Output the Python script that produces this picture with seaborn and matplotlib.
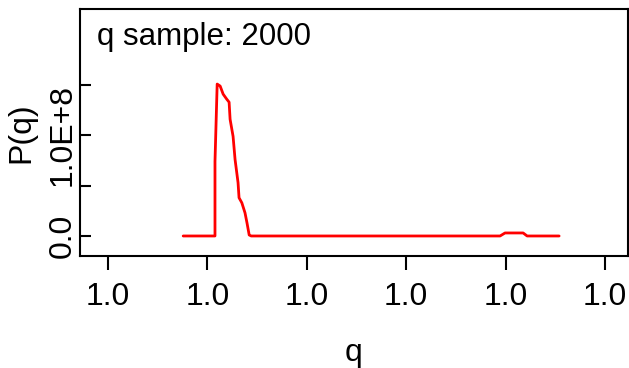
import matplotlib
matplotlib.use("Agg")
import matplotlib.pyplot as plt
import seaborn as sns
import pandas as pd

# ---- data ----
q_values = [0.9999378, 0.9999538, 0.9999538, 0.9999549, 0.9999564, 0.9999579,
            0.9999597, 0.9999609, 0.9999614, 0.9999629, 0.9999639, 0.9999654,
            0.9999659, 0.9999673, 0.9999689, 0.9999699, 0.9999710, 0.9999720,
            1.0000972, 1.0000997, 1.0001088, 1.0001108, 1.0001269]
p_values = [0, 0, 7.4e7, 1.51e8, 1.49e8, 1.41e8,
            1.36e8, 1.33e8, 1.16e8, 9.9e7, 7.6e7, 5.3e7,
            3.8e7, 3.3e7, 2.3e7, 1.3e7, 1.0e6, 0,
            0, 3.0e6, 3.0e6, 0, 0]
x_ticks = [0.9999, 0.99995, 1.0, 1.00005, 1.0001, 1.00015]
x_tick_labels = ["1.0", "1.0", "1.0", "1.0", "1.0", "1.0"]
y_ticks = [0, 5e7, 1e8, 1.5e8]
y_tick_labels = ["0.0", "", "1.0E+8", ""]
annotation = "q sample: 2000"

df = pd.DataFrame({"q": q_values, "P(q)": p_values})

sns.set_theme(style="white")
plt.rcParams["font.family"] = ["Liberation Sans", "DejaVu Sans"]

fig = plt.figure(figsize=(6.29, 3.68), dpi=100)
ax = fig.add_axes([80 / 629, 1 - 256 / 368, 548 / 629, 247 / 368])

sns.lineplot(data=df, x="q", y="P(q)", ax=ax, color="#ff0000", linewidth=2.0,
             estimator=None, sort=False)

ax.set_xlim(0.9998859, 1.00016155)
ax.set_ylim(-1.99e7, 2.256e8)

ax.set_xticks(x_ticks, labels=x_tick_labels)
ax.set_yticks(y_ticks, labels=y_tick_labels)
for lab in ax.get_yticklabels():
    lab.set_rotation(90)
    lab.set_va("center")

ax.tick_params(axis="x", direction="out", length=10, width=1.5, pad=9,
               labelsize=23, colors="black", bottom=True)
ax.tick_params(axis="y", direction="in", length=8, width=1.5, pad=1.5,
               labelsize=23, colors="black", left=True)

for s in ax.spines.values():
    s.set_visible(True)
    s.set_color("black")
    s.set_linewidth(1.5)

ax.set_xlabel("q", fontsize=23, color="black")
ax.set_ylabel("P(q)", fontsize=23, color="black")
ax.xaxis.set_label_coords(0.5, -0.332)
ax.yaxis.set_label_coords(-0.080, 0.5)

ax.text(0.031, 0.854, annotation, transform=ax.transAxes, fontsize=22.5,
        ha="left", va="baseline", color="black")

fig.savefig("out.png", dpi=100)
